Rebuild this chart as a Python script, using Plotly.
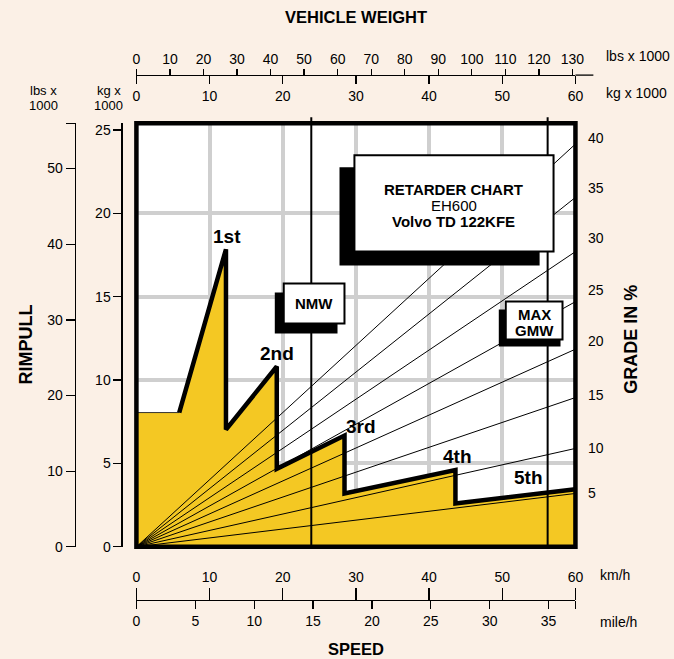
import plotly.graph_objects as go

W, H = 674, 659          # reference picture size (layout is designed in these pixels)
FW, FH = 684, 669        # figure size (compensates the ~1.5 % shrink seen in the capture)

# ---------------- data ----------------
# Retarder curve: speed (km/h) vs rimpull (kg x 1000)
retarder_speed = [0, 5.85, 12.24, 12.24, 19.18, 19.18, 28.44, 28.44, 43.6, 43.6, 60]
retarder_rimpull = [8.05, 8.05, 17.84, 7.03, 10.81, 4.68, 6.67, 3.2, 4.6, 2.6, 3.45]

gears = ["1st", "2nd", "3rd", "4th", "5th"]

# Grade lines: rimpull (kg x 1000) reached at 60 t vehicle weight
grades = [5, 10, 15, 20, 25, 30, 35, 40]
grade_rimpull_at_60t = [3.2, 5.9, 8.95, 11.85, 14.7, 17.7, 20.95, 24.15]
grade_weight_end = 60

# Weights (kg x 1000)
nmw_t = 23.9
gmw_t = 56.2

# Axis ticks
kg_weight_ticks = [0, 10, 20, 30, 40, 50, 60]
lbs_weight_ticks = [0, 10, 20, 30, 40, 50, 60, 70, 80, 90, 100, 110, 120, 130]
kmh_ticks = [0, 10, 20, 30, 40, 50, 60]
mph_ticks = [0, 5, 10, 15, 20, 25, 30, 35]
rimpull_kg_ticks = [0, 5, 10, 15, 20, 25]
rimpull_lbs_ticks = [0, 10, 20, 30, 40, 50]

# ---------------- geometry helpers ----------------
def px(x):
    return x / W

def py(y):
    return 1 - y / H

PL, PR, PT, PB = 133, 574, 122, 545
Y_MAX = 25.4
X_DOM = [px(PL), px(PR)]
Y_DOM = [py(PB), py(PT)]

FONT = "Liberation Sans, Arial, sans-serif"
YELLOW = "#F4C823"
BG = "#FBF0E6"
GRID = "#CFCFCF"

fig = go.Figure()

# yellow fill
fig.add_trace(go.Scatter(x=retarder_speed, y=retarder_rimpull, mode="lines",
                         line=dict(width=0), fill="tozeroy", fillcolor=YELLOW,
                         hoverinfo="skip", showlegend=False))

# grade lines
gx, gy = [], []
for r in grade_rimpull_at_60t:
    gx += [0, grade_weight_end, None]
    gy += [0, r, None]
fig.add_trace(go.Scatter(x=gx, y=gy, mode="lines", line=dict(color="black", width=1),
                         hoverinfo="skip", showlegend=False))

# thin horizontal start of curve
fig.add_trace(go.Scatter(x=retarder_speed[:2], y=retarder_rimpull[:2], mode="lines",
                         line=dict(color="#333333", width=1), hoverinfo="skip", showlegend=False))
# thick retarder curve
fig.add_trace(go.Scatter(x=retarder_speed[1:], y=retarder_rimpull[1:], mode="lines",
                         line=dict(color="black", width=4.5), hoverinfo="skip", showlegend=False))

# dummy traces so every extra axis is drawn
for xa, ya in [("x2", "y"), ("x3", "y"), ("x4", "y"), ("x5", "y"), ("x", "y2"), ("x", "y3")]:
    fig.add_trace(go.Scatter(x=[0], y=[0], xaxis=xa, yaxis=ya, mode="markers",
                             marker=dict(opacity=0), hoverinfo="skip", showlegend=False))

axis_common = dict(showgrid=False, zeroline=False, showline=True, linecolor="black",
                   linewidth=1.3, ticks="outside", tickcolor="black", tickwidth=1.3,
                   tickfont=dict(family=FONT, size=14, color="black"), fixedrange=True)

mph_max = 60 / 1.609344
lbs_top_max = 130 * (PR - PL) / (571 - PL)
lbs_left_max = Y_MAX * 2.20462

fig.update_layout(
    width=FW, height=FH, margin=dict(l=0, r=0, t=0, b=0), autosize=False,
    paper_bgcolor=BG, plot_bgcolor="white", showlegend=False,
    font=dict(family=FONT, color="black"),
    xaxis=dict(domain=X_DOM, range=[0, 60], tickvals=[10, 20, 30, 40, 50], showgrid=True,
               gridcolor=GRID, gridwidth=4, showticklabels=False, ticks="", zeroline=False,
               showline=False, fixedrange=True),
    yaxis=dict(domain=Y_DOM, range=[0, Y_MAX], tickvals=[5, 10, 15, 20], showgrid=True,
               gridcolor=GRID, gridwidth=4, showticklabels=False, ticks="", zeroline=False,
               showline=False, fixedrange=True),
    # top: kg (labels below line)
    xaxis2=dict(overlaying="x", anchor="free", position=py(74), side="bottom",
                range=[0, 60], tickvals=kg_weight_ticks, ticklen=8, **axis_common),
    # top: lbs (labels above line)
    xaxis3=dict(overlaying="x", anchor="free", position=py(74), side="top",
                range=[0, lbs_top_max], tickvals=lbs_weight_ticks, ticklen=6, **axis_common),
    # bottom: km/h (labels above)
    xaxis4=dict(overlaying="x", anchor="free", position=py(598), side="top",
                range=[0, 60], tickvals=kmh_ticks, ticklen=12, **axis_common),
    # bottom: mile/h (labels below)
    xaxis5=dict(overlaying="x", anchor="free", position=py(598), side="bottom",
                range=[0, mph_max], tickvals=mph_ticks + [mph_max],
                ticktext=[str(t) for t in mph_ticks] + [""], ticklen=8, **axis_common),
    # left: kg
    yaxis2=dict(overlaying="y", anchor="free", position=px(118), side="left",
                range=[0, Y_MAX], tickvals=rimpull_kg_ticks, ticklen=8, **axis_common),
    # left: lbs
    yaxis3=dict(overlaying="y", anchor="free", position=px(71), side="left",
                range=[0, lbs_left_max], tickvals=rimpull_lbs_ticks + [lbs_left_max],
                ticktext=[str(t) for t in rimpull_lbs_ticks] + [""], ticklen=9, **axis_common),
)

shapes = []
# extension of the top axis line
shapes.append(dict(type="line", xref="paper", yref="paper", x0=px(PR), x1=px(592),
                   y0=py(74), y1=py(74), line=dict(color="black", width=1.3)))
# NMW / GMW vertical lines
for w in (nmw_t, gmw_t):
    shapes.append(dict(type="line", xref="x", yref="paper", x0=w, x1=w, y0=py(PB), y1=py(116),
                       line=dict(color="black", width=2), layer="above"))

def box(x0, y0, x1, y1, sx0, sy0, sx1, sy1):
    shapes.append(dict(type="rect", xref="paper", yref="paper", x0=px(sx0), x1=px(sx1),
                       y0=py(sy1), y1=py(sy0), fillcolor="black", line=dict(width=0), layer="above"))
    shapes.append(dict(type="rect", xref="paper", yref="paper", x0=px(x0), x1=px(x1),
                       y0=py(y1), y1=py(y0), fillcolor="white",
                       line=dict(color="black", width=2), layer="above"))

box(281, 282, 342, 322, 272, 291, 335, 332)          # NMW
box(352, 154, 552, 250, 337, 166, 538, 264)          # RETARDER CHART
box(504, 300, 561, 338, 497, 308, 559, 345)          # MAX GMW

# frame
shapes.append(dict(type="rect", xref="paper", yref="paper", x0=px(PL), x1=px(PR),
                   y0=py(PB), y1=py(PT), line=dict(color="black", width=4.5),
                   fillcolor="rgba(0,0,0,0)", layer="above"))
fig.update_layout(shapes=shapes)

ann = []
def text(x, y, s, size=14, bold=False, xanchor="center", angle=0):
    ann.append(dict(x=px(x), y=py(y), xref="paper", yref="paper", text=f"<b>{s}</b>" if bold else s,
                    showarrow=False, xanchor=xanchor, yanchor="middle", textangle=angle,
                    font=dict(family=FONT, size=size, color="black")))

text(354, 16, "VEHICLE WEIGHT", 16.5, True)
text(354, 647, "SPEED", 16.5, True)
text(22, 343, "RIMPULL", 18, True, angle=-90)
text(629, 338, "GRADE IN %", 18, True, angle=-90)
text(603, 55, "lbs x 1000", 14, xanchor="left")
text(603, 92, "kg x 1000", 14, xanchor="left")
text(597, 573, "km/h", 14, xanchor="left")
text(597, 620, "mile/h", 14, xanchor="left")
text(40, 89, "lbs x", 13)
text(40, 104, "1000", 13)
text(105, 89, "kg x", 13)
text(105, 104, "1000", 13)

# grade labels
grade_label_y = [491, 446, 393, 339, 289, 237, 187, 137]
for g, yy in zip(grades, grade_label_y):
    text(585, yy, str(g), 14, xanchor="left")

# gear labels
gear_pos = [(224, 235), (274, 352), (359, 425), (456, 455), (527, 476)]
for g, (xx, yy) in zip(gears, gear_pos):
    text(xx, yy, g, 19, True)

# box texts
text(311, 302, "NMW", 15, True)
text(452, 188, "RETARDER CHART", 15, True)
text(452, 204, "EH600", 15)
text(452, 220, "Volvo TD 122KFE", 15, True)
text(533, 313, "MAX", 15, True)
text(533, 329, "GMW", 15, True)

fig.update_layout(annotations=ann)

post = (
    "document.documentElement.style.margin='0';"
    "document.documentElement.style.overflow='hidden';"
    "document.body.style.margin='0';"
    "document.body.style.padding='0';"
    "document.body.style.overflow='hidden';"
    "document.body.style.background='%s';"
) % BG
fig.write_html("out.html", config={"displayModeBar": False, "staticPlot": True},
               post_script=post)
